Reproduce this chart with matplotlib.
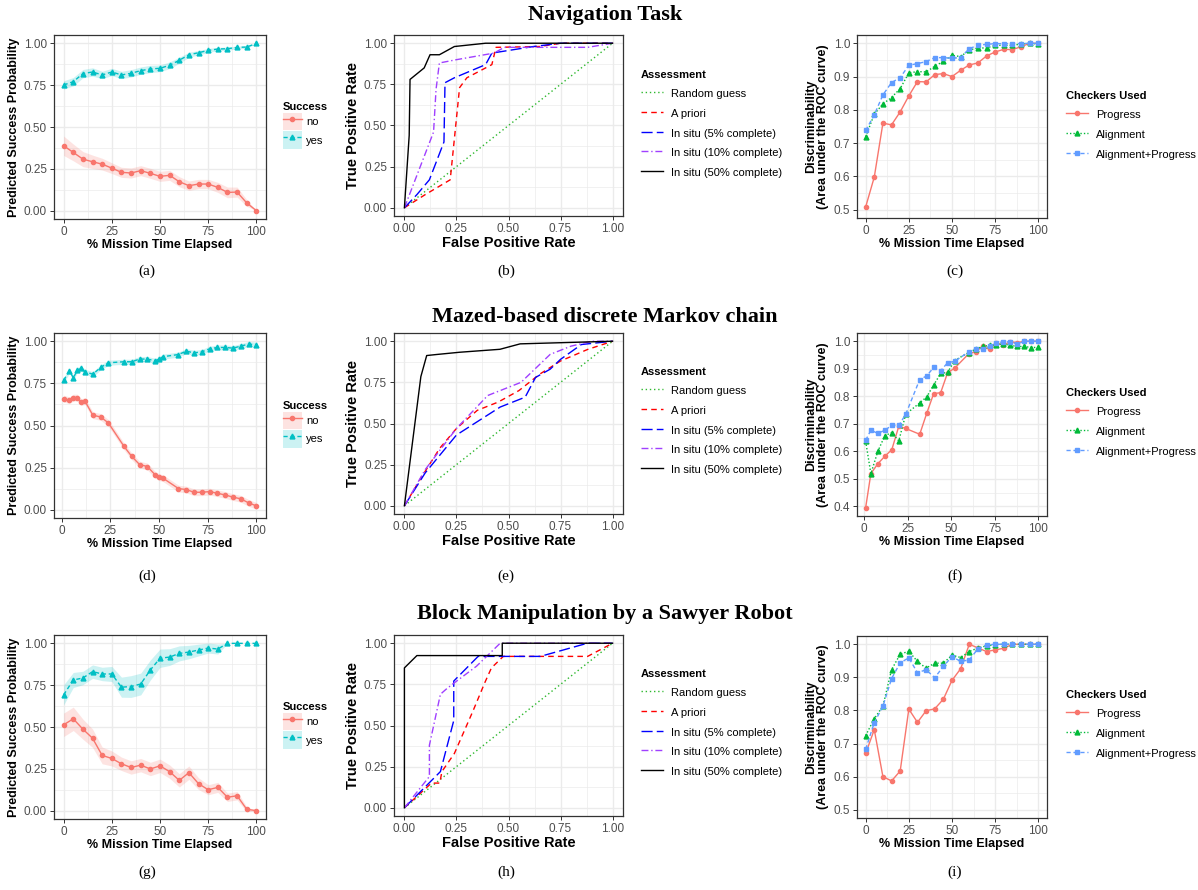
import matplotlib
matplotlib.use("Agg")
import matplotlib.pyplot as plt
from matplotlib.lines import Line2D
from matplotlib.patches import Patch
import numpy as np

plt.rcParams['font.family'] = ['Liberation Sans', 'DejaVu Sans']

W, H = 1198, 890

# ---------------- data ----------------
pct = [0, 5, 10, 15, 20, 25, 30, 35, 40, 45, 50, 55, 60, 65, 70, 75, 80, 85, 90, 95, 100]

# (a) navigation: predicted success probability
a_no = [0.388, 0.348, 0.308, 0.292, 0.278, 0.254, 0.229, 0.225, 0.239, 0.223, 0.205,
        0.211, 0.173, 0.149, 0.159, 0.159, 0.139, 0.109, 0.111, 0.046, 0.0]
a_no_ci = [0.058, 0.05, 0.045, 0.04, 0.035, 0.032, 0.03, 0.03, 0.03, 0.03, 0.03,
           0.03, 0.03, 0.028, 0.028, 0.028, 0.03, 0.032, 0.03, 0.02, 0.0]
a_yes = [0.751, 0.771, 0.819, 0.829, 0.811, 0.829, 0.811, 0.821, 0.837, 0.847, 0.851,
         0.869, 0.899, 0.932, 0.944, 0.958, 0.966, 0.968, 0.976, 0.978, 1.0]
a_yes_ci = [0.025, 0.025, 0.025, 0.025, 0.022, 0.022, 0.022, 0.022, 0.022, 0.022, 0.02,
            0.02, 0.018, 0.015, 0.013, 0.012, 0.01, 0.01, 0.008, 0.008, 0.0]

# (b) navigation ROC
b_apriori_x = [0, 0.10, 0.22, 0.265, 0.30, 0.42, 0.44, 0.65, 0.75, 1.0]
b_apriori_y = [0, 0.08, 0.17, 0.73, 0.79, 0.87, 0.975, 0.98, 1.0, 1.0]
b_5_x = [0, 0.06, 0.12, 0.19, 0.195, 0.24, 0.39, 0.42, 0.52, 0.62, 0.75, 1.0]
b_5_y = [0, 0.08, 0.17, 0.40, 0.76, 0.79, 0.87, 0.94, 0.96, 0.98, 1.0, 1.0]
b_10_x = [0, 0.07, 0.14, 0.152, 0.168, 0.25, 0.43, 0.48, 0.88, 1.0]
b_10_y = [0, 0.23, 0.46, 0.72, 0.88, 0.90, 0.94, 0.975, 0.975, 1.0]
b_50_x = [0, 0.023, 0.027, 0.095, 0.123, 0.168, 0.24, 0.39, 1.0]
b_50_y = [0, 0.44, 0.78, 0.85, 0.93, 0.93, 0.98, 1.0, 1.0]

# (c) navigation AUC
c_prog = [0.508, 0.598, 0.760, 0.755, 0.794, 0.842, 0.885, 0.884, 0.906, 0.909, 0.900,
          0.919, 0.935, 0.941, 0.962, 0.974, 0.982, 0.981, 0.990, 1.0, 1.0]
c_align = [0.719, 0.787, 0.818, 0.837, 0.864, 0.911, 0.915, 0.914, 0.931, 0.946, 0.964,
           0.960, 0.980, 0.986, 0.986, 0.994, 0.994, 0.994, 0.998, 1.0, 0.998]
c_both = [0.738, 0.785, 0.845, 0.882, 0.897, 0.934, 0.939, 0.945, 0.957, 0.957, 0.955,
          0.957, 0.984, 0.994, 0.997, 0.999, 0.999, 0.999, 0.999, 1.0, 1.0]

# (d) markov chain: predicted success probability
d_x = [1, 4, 6, 8, 10, 12, 16, 20, 24, 32, 36, 40, 44, 48, 50, 52, 60, 64, 68, 72, 76,
       80, 84, 88, 92, 96, 100]
d_no = [0.66, 0.65, 0.666, 0.666, 0.64, 0.644, 0.561, 0.551, 0.515, 0.376, 0.316, 0.268,
        0.256, 0.207, 0.193, 0.187, 0.125, 0.119, 0.103, 0.103, 0.107, 0.097, 0.087,
        0.074, 0.064, 0.04, 0.022]
d_no_ci = [0.02] * 27
d_yes = [0.769, 0.825, 0.783, 0.829, 0.839, 0.819, 0.805, 0.845, 0.873, 0.879, 0.879,
         0.895, 0.895, 0.885, 0.895, 0.909, 0.922, 0.942, 0.932, 0.938, 0.956, 0.964,
         0.964, 0.960, 0.972, 0.984, 0.98]
d_yes_ci = [0.015] * 27

# (e) markov chain ROC
e_apriori_x = [0, 0.08, 0.17, 0.25, 0.35, 0.45, 0.55, 0.65, 0.75, 0.88, 1.0]
e_apriori_y = [0, 0.17, 0.35, 0.47, 0.58, 0.63, 0.70, 0.80, 0.88, 0.95, 1.0]
e_5_x = [0, 0.10, 0.25, 0.46, 0.58, 0.63, 0.70, 0.75, 0.85, 1.0]
e_5_y = [0, 0.20, 0.43, 0.60, 0.66, 0.78, 0.83, 0.89, 0.98, 1.0]
e_10_x = [0, 0.10, 0.25, 0.40, 0.50, 0.56, 0.70, 0.80, 0.90, 1.0]
e_10_y = [0, 0.22, 0.47, 0.67, 0.72, 0.75, 0.92, 0.97, 1.0, 1.0]
e_50_x = [0, 0.079, 0.107, 0.152, 0.265, 0.459, 0.556, 1.0]
e_50_y = [0, 0.785, 0.913, 0.919, 0.933, 0.951, 0.984, 1.0]

# (f) markov chain AUC
f_x = [1, 4, 8, 12, 16, 20, 24, 32, 36, 40, 44, 48, 52, 60, 64, 68, 72, 76, 80, 84, 88,
       92, 96, 100]
f_prog = [0.395, 0.519, 0.555, 0.582, 0.606, 0.691, 0.683, 0.662, 0.738, 0.810, 0.813,
          0.886, 0.902, 0.954, 0.962, 0.981, 0.971, 0.993, 0.987, 0.998, 0.995, 1.0, 1.0, 1.0]
f_align = [0.637, 0.519, 0.600, 0.657, 0.668, 0.638, 0.735, 0.776, 0.798, 0.841, 0.883,
           0.887, 0.930, 0.959, 0.971, 0.981, 0.985, 0.988, 0.990, 0.985, 0.981, 0.981,
           0.977, 0.978]
f_both = [0.640, 0.677, 0.665, 0.677, 0.694, 0.694, 0.735, 0.861, 0.874, 0.905, 0.893,
          0.922, 0.927, 0.961, 0.973, 0.973, 0.981, 0.993, 0.998, 0.998, 0.990, 1.0, 1.0, 1.0]

# (g) sawyer: predicted success probability
g_no = [0.513, 0.549, 0.487, 0.433, 0.330, 0.312, 0.280, 0.258, 0.272, 0.249, 0.268,
        0.233, 0.181, 0.227, 0.161, 0.125, 0.139, 0.080, 0.089, 0.008, 0.0]
g_no_ci = [0.07, 0.07, 0.06, 0.055, 0.05, 0.045, 0.04, 0.04, 0.04, 0.04, 0.04,
           0.04, 0.04, 0.04, 0.035, 0.03, 0.03, 0.025, 0.025, 0.015, 0.0]
g_yes = [0.692, 0.781, 0.793, 0.831, 0.817, 0.817, 0.738, 0.742, 0.757, 0.841, 0.911,
         0.918, 0.940, 0.948, 0.960, 0.972, 0.966, 1.0, 1.0, 1.0, 1.0]
g_yes_ci = [0.06, 0.045, 0.04, 0.04, 0.04, 0.045, 0.06, 0.065, 0.065, 0.06, 0.055,
            0.05, 0.045, 0.04, 0.035, 0.03, 0.03, 0.0, 0.0, 0.0, 0.0]

# (h) sawyer ROC
h_apriori_x = [0, 0.13, 0.17, 0.18, 0.24, 0.33, 0.386, 0.418, 0.475, 0.88, 1.0]
h_apriori_y = [0, 0.15, 0.15, 0.22, 0.33, 0.59, 0.76, 0.85, 0.92, 0.92, 1.0]
h_5_x = [0, 0.173, 0.237, 0.237, 0.354, 0.653, 0.879, 1.0]
h_5_y = [0, 0.22, 0.53, 0.77, 0.92, 0.92, 1.0, 1.0]
h_10_x = [0, 0.12, 0.12, 0.173, 0.20, 0.23, 0.346, 0.46, 1.0]
h_10_y = [0, 0.19, 0.38, 0.69, 0.72, 0.75, 0.86, 1.0, 1.0]
h_50_x = [0, 0, 0.06, 0.47, 0.47, 1.0]
h_50_y = [0, 0.85, 0.925, 0.925, 1.0, 1.0]

# (i) sawyer AUC
i_prog = [0.670, 0.742, 0.600, 0.587, 0.617, 0.804, 0.764, 0.799, 0.805, 0.834, 0.891,
          0.926, 1.0, 0.989, 0.978, 0.983, 0.988, 1.0, 1.0, 1.0, 1.0]
i_align = [0.724, 0.775, 0.813, 0.923, 0.970, 0.979, 0.948, 0.928, 0.943, 0.943, 0.967,
           0.960, 0.978, 0.989, 0.995, 0.999, 1.0, 1.0, 1.0, 1.0, 1.0]
i_both = [0.683, 0.763, 0.813, 0.896, 0.944, 0.959, 0.914, 0.923, 0.899, 0.933, 0.963,
          0.948, 0.953, 0.986, 0.998, 1.0, 1.0, 1.0, 1.0, 1.0, 1.0]

row_titles = ["Navigation Task", "Mazed-based discrete Markov chain",
              "Block Manipulation by a Sawyer Robot"]
sub_labels = ["(a)", "(b)", "(c)", "(d)", "(e)", "(f)", "(g)", "(h)", "(i)"]
roc_names = ["Random guess", "A priori", "In situ (5% complete)",
             "In situ (10% complete)", "In situ (50% complete)"]
checker_names = ["Progress", "Alignment", "Alignment+Progress"]

RED, TEAL = "#F8766D", "#00BFC4"
C3 = ["#F8766D", "#00BA38", "#619CFF"]
GRID = "#EBEBEB"


fig = plt.figure(figsize=(W / 100, H / 100), dpi=100)


def box(x0, y0, x1, y1):
    return fig.add_axes([x0 / W, 1 - y1 / H, (x1 - x0) / W, (y1 - y0) / H])


def style(ax, xt, yt, xlim, ylim, xfmt, yfmt):
    ax.set_xlim(*xlim)
    ax.set_ylim(*ylim)
    ax.set_xticks(xt)
    ax.set_yticks(yt)
    ax.set_xticklabels([xfmt.format(v) for v in xt])
    ax.set_yticklabels([yfmt.format(v) for v in yt])
    xm = [(xt[k] + xt[k + 1]) / 2 for k in range(len(xt) - 1)]
    ym = [(yt[k] + yt[k + 1]) / 2 for k in range(len(yt) - 1)]
    for v in xm:
        ax.axvline(v, color=GRID, lw=0.5, zorder=0)
    for v in ym:
        ax.axhline(v, color=GRID, lw=0.5, zorder=0)
    for v in xt:
        ax.axvline(v, color=GRID, lw=1.0, zorder=0)
    for v in yt:
        ax.axhline(v, color=GRID, lw=1.0, zorder=0)
    for s in ax.spines.values():
        s.set_color("#333333")
        s.set_linewidth(0.9)
    ax.tick_params(length=3, width=0.7, color="#333333", labelcolor="#4D4D4D",
                   labelsize=8.5, pad=2)


def place_legend(ax, handles, labels, title, xy, **kw):
    leg = ax.legend(handles, labels, title=title, loc="upper left",
                    bbox_to_anchor=(xy[0] / W, 1 - xy[1] / H),
                    bbox_transform=fig.transFigure, frameon=False, fontsize=8,
                    title_fontproperties={"weight": "bold", "size": 8},
                    borderpad=0, borderaxespad=0, **kw)
    leg._legend_box.align = "left"


def prob_panel(ax, x, no, no_ci, yes, yes_ci, xlim, legend_xy):
    no, no_ci, yes, yes_ci = map(np.array, (no, no_ci, yes, yes_ci))
    ax.fill_between(x, no - no_ci, no + no_ci, color=RED, alpha=0.2, lw=0)
    ax.fill_between(x, yes - yes_ci, yes + yes_ci, color=TEAL, alpha=0.2, lw=0)
    ax.plot(x, no, color=RED, lw=1.0, marker="o", ms=3)
    ax.plot(x, yes, color=TEAL, lw=1.0, ls=(0, (3, 2)), marker="^", ms=3.5)
    style(ax, [0, 25, 50, 75, 100], [0, 0.25, 0.5, 0.75, 1.0], xlim, (-0.05, 1.05),
          "{:g}", "{:.2f}")
    ax.set_xlabel("% Mission Time Elapsed", fontsize=9, fontweight="bold", labelpad=1)
    ax.set_ylabel("Predicted Success Probability", fontsize=9, fontweight="bold",
                  labelpad=3)
    h1 = (Patch(color=RED, alpha=0.2, lw=0),
          Line2D([], [], color=RED, lw=1.0, marker="o", ms=3))
    h2 = (Patch(color=TEAL, alpha=0.2, lw=0),
          Line2D([], [], color=TEAL, lw=1.0, ls=(0, (3, 2)), marker="^", ms=3.5))
    place_legend(ax, [h1, h2], ["no", "yes"], "Success", legend_xy,
                 handlelength=1.7, handleheight=2.0, labelspacing=0.1,
                 handletextpad=0.4)


def roc_panel(ax, curves, legend_xy):
    styles = [("#2EB82E", (0, (1, 2))), ("red", (0, (4, 3))), ("blue", (0, (8, 3))),
              ("#A040FF", (0, (5, 2, 1, 2))), ("black", "-")]
    all_curves = [([0, 1], [0, 1])] + curves
    handles = []
    for (cx, cy), (col, ls), name in zip(all_curves, styles, roc_names):
        ax.plot(cx, cy, color=col, ls=ls, lw=1.0)
        handles.append(Line2D([], [], color=col, ls=ls, lw=1.0))
    style(ax, [0, 0.25, 0.5, 0.75, 1.0], [0, 0.25, 0.5, 0.75, 1.0], (-0.05, 1.05),
          (-0.05, 1.05), "{:.2f}", "{:.2f}")
    ax.set_xlabel("False Positive Rate", fontsize=10.5, fontweight="bold", labelpad=1)
    ax.set_ylabel("True Positive Rate", fontsize=10.5, fontweight="bold", labelpad=3)
    place_legend(ax, handles, roc_names, "Assessment", legend_xy,
                 handlelength=2.0, handleheight=1.3, labelspacing=0.68,
                 handletextpad=0.7)


def auc_panel(ax, x, series, xlim, ylim, yt, legend_xy):
    styles = [("-", "o", 3), ((0, (1, 1.5)), "^", 3.5), ((0, (3, 2)), "s", 3.5)]
    handles = []
    for vals, col, (ls, mk, ms) in zip(series, C3, styles):
        ax.plot(x, vals, color=col, ls=ls, lw=1.0, marker=mk, ms=ms)
        handles.append(Line2D([], [], color=col, ls=ls, lw=1.0, marker=mk, ms=ms))
    style(ax, [0, 25, 50, 75, 100], yt, xlim, ylim, "{:g}", "{:.1f}")
    ax.set_xlabel("% Mission Time Elapsed", fontsize=9, fontweight="bold", labelpad=1)
    ax.set_ylabel("Discriminability\n(Area under the ROC curve)", fontsize=9,
                  fontweight="bold", labelpad=3, linespacing=1.0)
    place_legend(ax, handles, checker_names, "Checkers Used", legend_xy,
                 handlelength=2.0, handleheight=1.3, labelspacing=0.68,
                 handletextpad=0.7)


# ---------------- row 1 ----------------
ax = box(54, 35, 266, 219)
prob_panel(ax, pct, a_no, a_no_ci, a_yes, a_yes_ci, (-5, 105), (283, 102))
ax = box(394, 35, 623, 216)
roc_panel(ax, [(b_apriori_x, b_apriori_y), (b_5_x, b_5_y), (b_10_x, b_10_y),
               (b_50_x, b_50_y)], (641, 70))
ax = box(857, 35, 1047, 218)
auc_panel(ax, pct, [c_prog, c_align, c_both], (-5, 105), (0.475, 1.025),
          [0.5, 0.6, 0.7, 0.8, 0.9, 1.0], (1066, 91))

# ---------------- row 2 ----------------
ax = box(54, 333, 266, 518)
prob_panel(ax, d_x, d_no, d_no_ci, d_yes, d_yes_ci, (-3.95, 104.95), (283, 401))
ax = box(394, 333, 623, 514)
roc_panel(ax, [(e_apriori_x, e_apriori_y), (e_5_x, e_5_y), (e_10_x, e_10_y),
               (e_50_x, e_50_y)], (641, 367))
ax = box(857, 333, 1047, 516)
auc_panel(ax, f_x, [f_prog, f_align, f_both], (-3.95, 104.95), (0.365, 1.03),
          [0.4, 0.5, 0.6, 0.7, 0.8, 0.9, 1.0], (1066, 388))

# ---------------- row 3 ----------------
ax = box(54, 635, 266, 819)
prob_panel(ax, pct, g_no, g_no_ci, g_yes, g_yes_ci, (-5, 105), (283, 702))
ax = box(394, 635, 623, 816)
roc_panel(ax, [(h_apriori_x, h_apriori_y), (h_5_x, h_5_y), (h_10_x, h_10_y),
               (h_50_x, h_50_y)], (641, 669))
ax = box(857, 636, 1047, 818)
auc_panel(ax, pct, [i_prog, i_align, i_both], (-5, 105), (0.475, 1.025),
          [0.5, 0.6, 0.7, 0.8, 0.9, 1.0], (1066, 690))

# ---------------- titles & sub-labels ----------------
for t, y in zip(row_titles, [15, 317, 614]):
    fig.text(605 / W, 1 - y / H, t, ha="center", va="center", fontsize=16,
             fontweight="bold", family="Liberation Serif")
lab_x = [147, 506, 955]
lab_y = [271, 576, 872]
for k, lab in enumerate(sub_labels):
    fig.text(lab_x[k % 3] / W, 1 - lab_y[k // 3] / H, lab, ha="center", va="center",
             fontsize=11, family="Liberation Serif")

fig.savefig("out.png", dpi=100)
